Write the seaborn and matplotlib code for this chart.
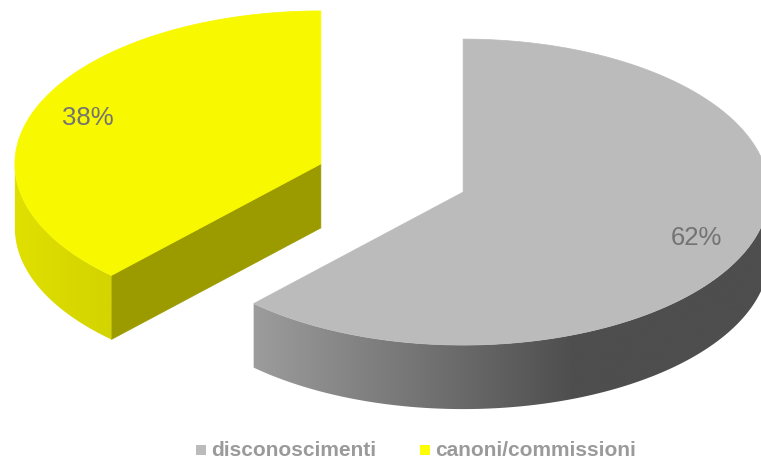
import numpy as np
import matplotlib
matplotlib.use("Agg")
import matplotlib.pyplot as plt
from matplotlib.patches import Polygon, Rectangle
from matplotlib.colors import LinearSegmentedColormap
import seaborn as sns

# Data
categories = ["disconoscimenti", "canoni/commissioni"]
shares = [62, 38]
top_colors = ["#bbbbbb", "#f8f800"]
cut_colors = ["#707070", "#9b9b00"]
wall_light = ["#9e9e9e", "#e0e000"]
wall_dark = ["#4e4e4e", "#d4d400"]

sns.set_theme(style="white")
plt.rcParams["font.family"] = ["Liberation Sans", "DejaVu Sans"]

W, H = 761, 459
fig = plt.figure(figsize=(W / 100, H / 100), dpi=100)
ax = fig.add_axes([0, 0, 1, 1])

# 3D pie geometry (screen units, y grows downward)
cx0, cy0 = 392.0, 178.0
rx, ry, depth = 306.0, 153.0, 64.0
explode = 0.25


def rim(center, a0, a1, dy=0.0, n=200):
    t = np.radians(np.linspace(a0, a1, n))
    return np.column_stack([center[0] + rx * np.cos(t),
                            center[1] - ry * np.sin(t) + dy])


def visible_ranges(lo, hi):
    out = []
    for a, b in [(-360, -180), (-180, 0), (180, 360)]:
        if (a, b) == (-360, -180):
            continue
        s, e = max(lo, a), min(hi, b)
        if e > s:
            out.append((s, e))
    return out


total = float(sum(shares))
# slices run clockwise from 12 o'clock
slices = []
end = 90.0
for i, v in enumerate(shares):
    span = v / total * 360.0
    lo, hi = end - span, end
    slices.append((i, lo, hi))
    end = lo

# normalise so the second slice is expressed in [90, 270)
norm = []
for i, lo, hi in slices:
    if hi <= -90:
        lo, hi = lo + 360, hi + 360
    norm.append((i, lo, hi))

gray_grad = LinearSegmentedColormap.from_list("g", [wall_light[0], wall_dark[0]])
yel_grad = LinearSegmentedColormap.from_list("y", [wall_light[1], wall_dark[1]])
grads = [gray_grad, yel_grad]
grad_span = [(246, 575), (13, 105)]

label_pos = []
# draw back slice (yellow) first, then the front one
for i, lo, hi in sorted(norm, key=lambda s: -s[0]):
    mid = np.radians((lo + hi) / 2)
    c = (cx0 + explode * rx * np.cos(mid), cy0 - explode * ry * np.sin(mid))

    # radial cut faces turned toward the viewer
    for edge, sign in [(lo, -1), (hi, 1)]:
        nrm = np.radians(edge + sign * 90)
        if np.sin(nrm) < -1e-6:
            p = rim(c, edge, edge, n=1)[0]
            face = [c, tuple(p), (p[0], p[1] + depth), (c[0], c[1] + depth)]
            ax.add_patch(Polygon(face, closed=True, facecolor=cut_colors[i],
                                 edgecolor=cut_colors[i], lw=0.5, zorder=2))

    # outer wall with horizontal shading
    for s, e in visible_ranges(lo, hi):
        topr = rim(c, s, e)
        botr = rim(c, e, s, dy=depth)
        poly = Polygon(np.vstack([topr, botr]), closed=True,
                       facecolor="none", edgecolor="none", zorder=2)
        ax.add_patch(poly)
        x0, x1 = grad_span[i]
        xs = np.linspace(0, W, 800)
        g = np.clip((xs - x0) / (x1 - x0), 0, 1)[None, :]
        im = ax.imshow(g, cmap=grads[i], vmin=0, vmax=1, aspect="auto",
                       extent=(0, W, H, 0), zorder=2, interpolation="bilinear")
        im.set_clip_path(poly)

    # top face
    top = np.vstack([[c], rim(c, lo, hi)])
    ax.add_patch(Polygon(top, closed=True, facecolor=top_colors[i],
                         edgecolor=top_colors[i], lw=0.5, zorder=3))

    lr = 0.82
    ax.text(c[0] + lr * rx * np.cos(mid), c[1] - lr * ry * np.sin(mid),
            f"{shares[i]}%", ha="center", va="center", fontsize=18.5,
            color="#737373", zorder=5)

# legend
leg_x = [196, 420]
leg_y = 450
for i, name in enumerate(categories):
    ax.add_patch(Rectangle((leg_x[i], leg_y - 5), 10, 10,
                           facecolor=top_colors[i] if i == 0 else "#ffff00",
                           edgecolor="none", zorder=5))
    ax.text(leg_x[i] + 15, leg_y, name, ha="left", va="center",
            fontsize=15, fontweight="bold", color="#9a9a9a", zorder=5)

ax.set_xlim(0, W)
ax.set_ylim(H, 0)
ax.axis("off")
fig.savefig("out.png", dpi=100, facecolor="white")
